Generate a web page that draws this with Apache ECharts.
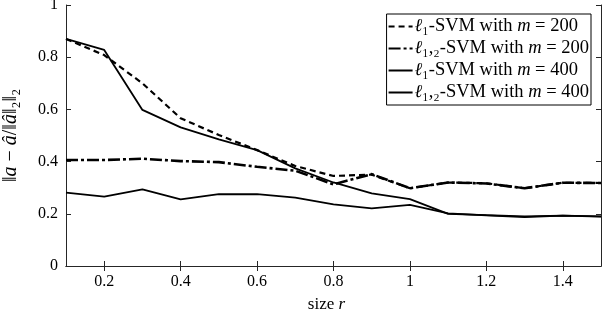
<!DOCTYPE html>
<html>
<head>
<meta charset="utf-8">
<script src="https://cdn.jsdelivr.net/npm/echarts@6/dist/echarts.min.js"></script>
<style>html,body{margin:0;padding:0;background:#fff}#c{width:602px;height:318px}</style>
</head>
<body>
<div id="c"></div>
<script>
var sizes = [0.1,0.2,0.3,0.4,0.5,0.6,0.7,0.8,0.9,1.0,1.1,1.2,1.3,1.4,1.5];
var l1m200  = [0.870,0.808,0.700,0.566,0.502,0.444,0.383,0.345,0.350,0.298,0.320,0.317,0.298,0.319,0.318];
var l12m200 = [0.406,0.406,0.411,0.402,0.398,0.380,0.365,0.313,0.352,0.298,0.320,0.316,0.298,0.319,0.318];
var l1m400  = [0.870,0.828,0.598,0.531,0.485,0.444,0.374,0.320,0.278,0.256,0.200,0.195,0.190,0.193,0.190];
var l12m400 = [0.281,0.266,0.294,0.255,0.275,0.275,0.262,0.236,0.221,0.234,0.202,0.194,0.187,0.193,0.189];
var xTicks = [0.2,0.4,0.6,0.8,1.0,1.2,1.4];
var yTicks = [0,0.2,0.4,0.6,0.8,1];
var names = ['ℓ₁-SVM with m = 200','ℓ₁,₂-SVM with m = 200','ℓ₁-SVM with m = 400','ℓ₁,₂-SVM with m = 400'];

function pairs(ys){ return sizes.map(function(x,i){ return [x, ys[i]]; }); }
var font = 'Liberation Serif';
var fmt = function(v){ return String(+v.toFixed(1)); };
var legendFmt = function(n){
  return n.replace('ℓ', '{i|ℓ}').replace(' m ', ' {i|m} ');
};

var chart = echarts.init(document.getElementById('c'));
chart.setOption({
  animation: false,
  textStyle: {fontFamily: font},
  grid: {left: 66, right: 1, top: 5, bottom: 52, containLabel: false, outerBoundsMode: 'none'},
  legend: {
    orient: 'vertical', right: 11, top: 14,
    itemWidth: 24, itemHeight: 10, itemGap: 3,
    padding: [3, 2, 3, 1],
    borderColor: '#000', borderWidth: 1, backgroundColor: '#fff',
    itemStyle: {opacity: 0},
    formatter: legendFmt,
    textStyle: {fontFamily: font, fontSize: 18.5, color: '#000', padding: [0,0,0,-3], width: 180,
      rich: {i: {fontFamily: font, fontSize: 18.5, fontStyle: 'italic', color: '#000'}}},
    data: names
  },
  xAxis: [{
    type: 'value', min: 0.1, max: 1.5,
    name: 'size {i|r}', nameLocation: 'middle', nameGap: 30,
    nameTextStyle: {fontFamily: font, fontSize: 17, color: '#000', padding: [0, 14, 0, 0],
      rich: {i: {fontFamily: font, fontSize: 17, fontStyle: 'italic', color: '#000'}}},
    axisLine: {lineStyle: {color: '#262626', width: 1}},
    axisTick: {inside: true, length: 5, customValues: xTicks, lineStyle: {color: '#262626'}},
    axisLabel: {customValues: xTicks, formatter: fmt, fontSize: 16, color: '#000', margin: 8},
    splitLine: {show: false}
  },{
    type: 'value', min: 0.1, max: 1.5, position: 'top',
    axisLine: {lineStyle: {color: '#262626', width: 1}},
    axisTick: {inside: true, length: 5, customValues: xTicks, lineStyle: {color: '#262626'}},
    axisLabel: {show: false}, splitLine: {show: false}
  }],
  yAxis: [{
    type: 'value', min: 0, max: 1, interval: 0.2,
    name: '‖{i|a} − {i|â}/‖{i|â}‖₂‖₂', nameLocation: 'middle', nameGap: 45, nameRotate: 90,
    nameTextStyle: {fontFamily: font, fontSize: 20, color: '#000',
      rich: {i: {fontFamily: font, fontSize: 20, fontStyle: 'italic', color: '#000'}}},
    axisLine: {show: true, lineStyle: {color: '#262626', width: 1}},
    axisTick: {show: true, inside: true, length: 5, lineStyle: {color: '#262626'}},
    axisLabel: {formatter: fmt, fontSize: 16, color: '#000', margin: 8},
    splitLine: {show: false}
  },{
    type: 'value', min: 0, max: 1, interval: 0.2, position: 'right',
    axisLine: {show: true, lineStyle: {color: '#262626', width: 1}},
    axisTick: {show: true, inside: true, length: 5, lineStyle: {color: '#262626'}},
    axisLabel: {show: false}, splitLine: {show: false}
  }],
  series: [
    {name: names[0], type: 'line', data: pairs(l1m200), symbol: 'none', z: 4,
     lineStyle: {color: '#000', width: 2.2, type: [6,4]}, itemStyle: {color: '#000'}},
    {name: names[1], type: 'line', data: pairs(l12m200), symbol: 'none', z: 3,
     lineStyle: {color: '#000', width: 2.6, type: [12,3,3,3]}, itemStyle: {color: '#000'}},
    {name: names[2], type: 'line', data: pairs(l1m400), symbol: 'none', z: 2,
     lineStyle: {color: '#000', width: 1.8}, itemStyle: {color: '#000'}},
    {name: names[3], type: 'line', data: pairs(l12m400), symbol: 'none', z: 1,
     lineStyle: {color: '#000', width: 1.8}, itemStyle: {color: '#000'}}
  ]
});
</script>
</body>
</html>
